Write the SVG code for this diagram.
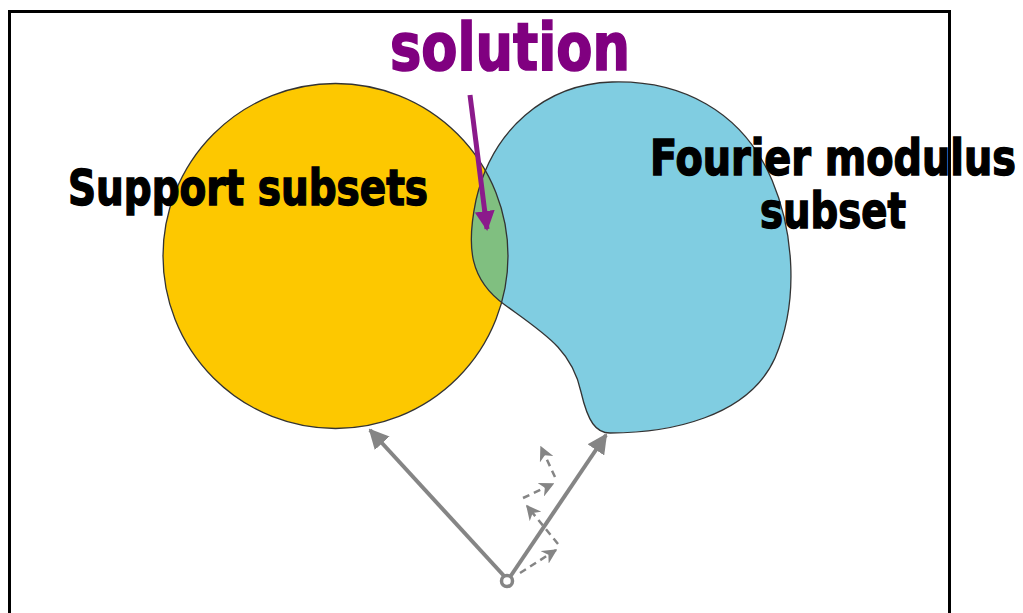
<svg xmlns="http://www.w3.org/2000/svg" width="1023" height="613" viewBox="0 0 1023 613">
<style>
.lbl{font-family:"DejaVu Sans Condensed","DejaVu Sans",sans-serif;font-weight:bold;fill:#000;stroke:#000;stroke-width:1.4}
.sol{font-family:"DejaVu Sans Condensed","DejaVu Sans",sans-serif;font-weight:bold;fill:#800080;stroke:#800080;stroke-width:1.6}
.solid{stroke:#858585;stroke-width:4;fill:none}
.dash{stroke:#858585;stroke-width:2.5;fill:none;stroke-dasharray:7 5}
</style>
<defs>
<marker id="ag" viewBox="0 0 10 10" refX="9" refY="5" markerWidth="5" markerHeight="5" orient="auto" markerUnits="strokeWidth"><path d="M0,0 L10,5 L0,10 z" fill="#858585"/></marker>
<marker id="agd" viewBox="0 0 10 10" refX="9" refY="5" markerWidth="6" markerHeight="6" orient="auto" markerUnits="strokeWidth"><path d="M0,0 L10,5 L0,10 L3,5 z" fill="#858585"/></marker>
<marker id="ap" viewBox="0 0 10 10" refX="9" refY="5" markerWidth="4" markerHeight="4" orient="auto" markerUnits="strokeWidth"><path d="M0,0 L10,5 L0,10 z" fill="#8b1a8b"/></marker>
<clipPath id="cc"><circle cx="335.5" cy="256" r="172.5"/></clipPath>
<path id="blob" d="M610,433 C668,433 748,418 775,358 C800,300 793,230 772,180 C742,110 680,80 612,82 C545,84 492,130 476,200 C466,248 470,280 505,305 C545,334 572,350 581,392 C588,422 596,433 610,433 Z"/>
</defs>
<rect x="0" y="0" width="1023" height="613" fill="#fff"/>
<rect x="9.5" y="11.5" width="940" height="620" fill="none" stroke="#000" stroke-width="3"/>
<g id="support">
<circle cx="335.5" cy="256" r="172.5" fill="#fdc800"/>
</g>
<g id="fourier">
<use href="#blob" fill="#80cde1"/>
<use href="#blob" fill="#80bf80" clip-path="url(#cc)"/>
<circle cx="335.5" cy="256" r="172.5" fill="none" stroke="#333" stroke-width="1.3"/>
<use href="#blob" fill="none" stroke="#333" stroke-width="1.3"/>
</g>
<g id="connectors">
<line class="solid" x1="505" y1="577" x2="370" y2="430" marker-end="url(#ag)"/>
<line class="solid" x1="510" y1="577" x2="606" y2="435" marker-end="url(#ag)"/>
<line class="dash" x1="520" y1="573" x2="556" y2="550" marker-end="url(#agd)"/>
<line class="dash" x1="558" y1="544" x2="527" y2="506" marker-end="url(#agd)"/>
<line class="dash" x1="523" y1="498" x2="553" y2="484" marker-end="url(#agd)"/>
<line class="dash" x1="555" y1="477" x2="541" y2="447" marker-end="url(#agd)"/>
<circle cx="507" cy="581" r="5.5" fill="#fff" stroke="#858585" stroke-width="3.5"/>
<line x1="470" y1="95" x2="487" y2="229" stroke="#8b1a8b" stroke-width="5" marker-end="url(#ap)"/>
</g>
<g id="labels">
<text class="sol" x="390" y="70" font-size="66" textLength="240" lengthAdjust="spacingAndGlyphs">solution</text>
<text class="lbl" x="68" y="205" font-size="50" textLength="360" lengthAdjust="spacingAndGlyphs">Support subsets</text>
<text class="lbl" x="650" y="175" font-size="50" textLength="366" lengthAdjust="spacingAndGlyphs">Fourier modulus</text>
<text class="lbl" x="760" y="228" font-size="50" textLength="146" lengthAdjust="spacingAndGlyphs">subset</text>
</g>
</svg>
